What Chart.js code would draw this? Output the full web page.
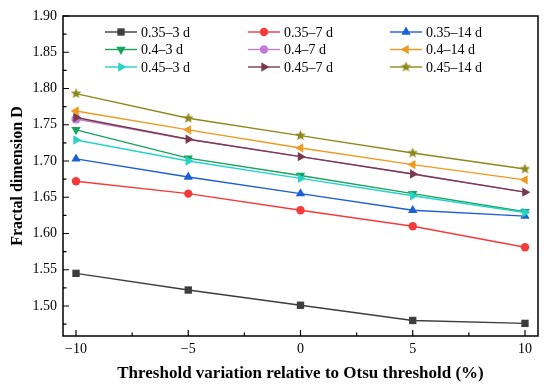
<!DOCTYPE html>
<html>
<head>
<meta charset="utf-8">
<script src="https://cdn.jsdelivr.net/npm/chart.js@4"></script>
<style>
  body { margin: 0; background: #fff; }
  #wrap { width: 550px; height: 388px; }
</style>
</head>
<body>
<div id="wrap"><canvas id="myChart"></canvas></div>
<script>
// threshold variation (%)
var xValues = [-10, -5, 0, 5, 10];
var xTicks = [-10, -5, 0, 5, 10];
var yTicks = [1.50, 1.55, 1.60, 1.65, 1.70, 1.75, 1.80, 1.85, 1.90];

var labels = ['0.35\u20133 d', '0.35\u20137 d', '0.35\u201314 d',
              '0.4\u20133 d', '0.4\u20137 d', '0.4\u201314 d',
              '0.45\u20133 d', '0.45\u20137 d', '0.45\u201314 d'];

var d035_3 = [1.545, 1.522, 1.501, 1.480, 1.476];
var d035_7 = [1.672, 1.655, 1.632, 1.610, 1.581];
var d035_14 = [1.703, 1.678, 1.655, 1.632, 1.624];
var d04_3 = [1.743, 1.704, 1.680, 1.655, 1.630];
var d04_7 = [1.758, 1.730, 1.706, 1.682, 1.657];
var d04_14 = [1.769, 1.743, 1.718, 1.695, 1.674];
var d045_3 = [1.729, 1.700, 1.676, 1.652, 1.629];
var d045_7 = [1.760, 1.730, 1.706, 1.682, 1.657];
var d045_14 = [1.793, 1.759, 1.735, 1.711, 1.689];

var colors = ['#3d3d3d', '#f53a3a', '#1c5fd6', '#17a35c', '#c07ad8', '#f0991f', '#26d3c9', '#7b3a4c', '#8e881c'];

function starImg(color, r) {
    var c = document.createElement('canvas');
    c.width = c.height = r * 2 + 2;
    var g = c.getContext('2d');
    g.fillStyle = color;
    g.beginPath();
    for (var i = 0; i < 10; i++) {
        var rr = i % 2 == 0 ? r : r * 0.45;
        var a = -Math.PI / 2 + i * Math.PI / 5;
        var px = r + 1 + rr * Math.cos(a), py = r + 1 + rr * Math.sin(a);
        if (i == 0) g.moveTo(px, py); else g.lineTo(px, py);
    }
    g.closePath();
    g.fill();
    return c;
}

var styles = [
    { pointStyle: 'rect', rotation: 0, r: 5.2 },
    { pointStyle: 'circle', rotation: 0, r: 4.2 },
    { pointStyle: 'triangle', rotation: 0, r: 5.4 },
    { pointStyle: 'triangle', rotation: 180, r: 5.4 },
    { pointStyle: 'circle', rotation: 0, r: 4.2 },
    { pointStyle: 'triangle', rotation: -90, r: 5.4 },
    { pointStyle: 'triangle', rotation: 90, r: 5.4 },
    { pointStyle: 'triangle', rotation: 90, r: 5.4 },
    { pointStyle: starImg(colors[8], 5.5), rotation: 0, r: 5 }
];

var series = [d035_3, d035_7, d035_14, d04_3, d04_7, d04_14, d045_3, d045_7, d045_14];

var datasets = series.map(function (vals, i) {
    return {
        label: labels[i],
        data: vals.map(function (v, j) { return { x: xValues[j], y: v }; }),
        borderColor: colors[i],
        backgroundColor: colors[i],
        borderWidth: 1.4,
        pointStyle: styles[i].pointStyle,
        rotation: styles[i].rotation,
        pointRadius: styles[i].r,
        pointBorderWidth: 0,
        order: 9 - i
    };
});
// 0.4-7 d sits under 0.45-7 d; only its first marker shows
datasets[4].pointRadius = [4.6, 2.5, 2.5, 2.5, 2.5];

// legend drawn inside plot + inward ticks + frame
var framePlugin = {
    id: 'frame',
    afterDatasetsDraw: function (chart) {
        var ctx = chart.ctx;
        var a = chart.chartArea;
        ctx.save();
        ctx.strokeStyle = '#000';
        ctx.lineWidth = 1.5;
        ctx.strokeRect(a.left, a.top, a.right - a.left, a.bottom - a.top);

        var xs = chart.scales.x, ys = chart.scales.y;
        ctx.lineWidth = 1.2;
        ctx.beginPath();
        for (var v = -10; v <= 10.001; v += 2.5) {
            var px = xs.getPixelForValue(v);
            var len = (Math.abs(v % 5) < 0.01) ? 6 : 3.5;
            ctx.moveTo(px, a.bottom); ctx.lineTo(px, a.bottom - len);
        }
        for (var k = 0; k <= 17; k++) {
            var val = 1.475 + k * 0.025;
            var py = ys.getPixelForValue(val);
            if (py < a.top - 0.5) continue;
            var major = k % 2 == 1;
            ctx.moveTo(a.left, py); ctx.lineTo(a.left + (major ? 6 : 3.5), py);
        }
        ctx.stroke();

        // legend
        var colX = [105, 248, 390];
        var rowY = [32, 49.5, 67];
        ctx.font = '14px "Liberation Serif", "Times New Roman", serif';
        ctx.textBaseline = 'middle';
        chart.data.datasets.forEach(function (ds, i) {
            var x0 = colX[i % 3], y0 = rowY[Math.floor(i / 3)];
            ctx.strokeStyle = ds.borderColor;
            ctx.fillStyle = ds.borderColor;
            ctx.lineWidth = 1.4;
            ctx.beginPath();
            ctx.moveTo(x0, y0); ctx.lineTo(x0 + 32, y0);
            ctx.stroke();
            Chart.helpers.drawPoint(ctx, { pointStyle: ds.pointStyle, rotation: ds.rotation, radius: styles[i].r, borderWidth: 0 }, x0 + 16, y0);
            ctx.fillStyle = '#000';
            ctx.fillText(ds.label, x0 + 36, y0 + 1);
        });
        ctx.restore();
    }
};

function fmtNum(v) {
    return v < 0 ? '\u2212' + Math.abs(v) : String(v);
}

function setChart() {
    const ctx = document.getElementById('myChart');
    new Chart(ctx, {
        type: 'line',
        data: { datasets: datasets },
        options: {
            responsive: true,
            maintainAspectRatio: false,
            animation: false,
            layout: { padding: { top: 16, right: 12, left: 0, bottom: 0 } },
            plugins: { legend: { display: false }, tooltip: { enabled: false } },
            scales: {
                x: {
                    type: 'linear',
                    min: -10.58,
                    max: 10.58,
                    afterBuildTicks: function (s) { s.ticks = xTicks.map(function (v) { return { value: v }; }); },
                    afterFit: function (s) { s.height = 52; },
                    grid: { display: false, drawTicks: false },
                    border: { display: false },
                    ticks: {
                        padding: 5,
                        color: '#000',
                        font: { family: '"Liberation Serif", serif', size: 14 },
                        callback: function (v) { return fmtNum(v); }
                    },
                    title: {
                        display: true,
                        text: 'Threshold variation relative to Otsu threshold (%)',
                        color: '#000',
                        font: { family: '"Liberation Serif", serif', size: 17, weight: 'bold' },
                        padding: { top: 0, bottom: 4 }
                    }
                },
                y: {
                    type: 'linear',
                    min: 1.4586,
                    max: 1.90,
                    afterBuildTicks: function (s) { s.ticks = yTicks.map(function (v) { return { value: v }; }); },
                    afterFit: function (s) { s.width = 63; },
                    grid: { display: false, drawTicks: false },
                    border: { display: false },
                    ticks: {
                        padding: 6,
                        color: '#000',
                        font: { family: '"Liberation Serif", serif', size: 14 },
                        callback: function (v) { return v.toFixed(2); }
                    },
                    title: {
                        display: true,
                        text: 'Fractal dimension D',
                        color: '#000',
                        font: { family: '"Liberation Serif", serif', size: 16, weight: 'bold' },
                        padding: { top: 8, bottom: 2 }
                    }
                }
            }
        },
        plugins: [framePlugin]
    });
}

setChart();
</script>
</body>
</html>
